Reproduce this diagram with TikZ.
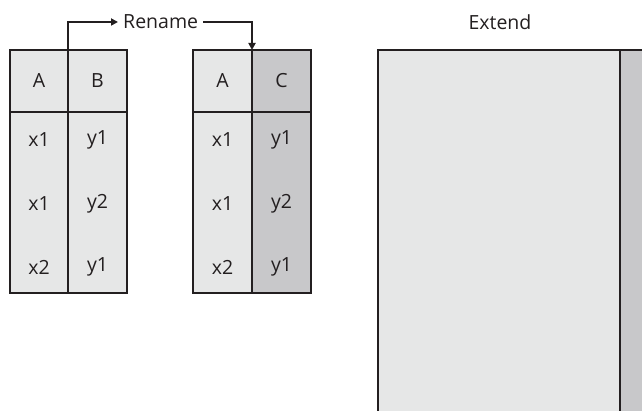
\documentclass[tikz,border=0pt]{standalone}
\usepackage{fontspec}
\setmainfont{Open Sans}
\usetikzlibrary{arrows.meta}
\definecolor{lightc}{HTML}{E6E7E7}
\definecolor{darkc}{HTML}{C8C8CA}
\definecolor{linec}{HTML}{231F20}
\definecolor{textc}{HTML}{231F20}
\begin{document}
\begin{tikzpicture}[x=1pt,y=-1pt,
  cell/.style={draw=linec,line width=2.4pt,inner sep=0pt,outer sep=0pt,anchor=north west},
  lt/.style={cell,fill=lightc},
  dk/.style={cell,fill=darkc},
  val/.style={text=textc,font=\fontsize{19.5}{23}\selectfont,inner sep=0pt},
  conn/.style={draw=linec,line width=1.8pt,-{Triangle[length=7pt,width=7pt]}}]
\useasboundingbox (0,0) rectangle (642,411);
\clip (0,0) rectangle (642,411);
% left table
\node[lt,minimum width=58pt,minimum height=62pt] (hA1) at (10,50) {};
\node[lt,minimum width=59pt,minimum height=62pt] (hB1) at (68,50) {};
\node[lt,minimum width=58pt,minimum height=181pt] (cA1) at (10,112) {};
\node[lt,minimum width=59pt,minimum height=181pt] (cB1) at (68,112) {};
% right table
\node[lt,minimum width=59pt,minimum height=62pt] (hA2) at (193,50) {};
\node[dk,minimum width=59pt,minimum height=62pt] (hC2) at (252,50) {};
\node[lt,minimum width=59pt,minimum height=181pt] (cA2) at (193,112) {};
\node[dk,minimum width=59pt,minimum height=181pt] (cC2) at (252,112) {};
% extend
\node[dk,minimum width=60pt,minimum height=400pt] (ext2) at (620,50) {};
\node[lt,minimum width=242pt,minimum height=400pt] (ext1) at (378,50) {};
% texts
\node[val] (tA1) at (39,81) {A};
\node[val] (tB1) at (97.5,81) {B};
\node[val] (tA2) at (222.5,81) {A};
\node[val] (tC2) at (281.5,81) {C};
\foreach \n/\y in {1/140,2/204,3/267}{
  \node[val] (x1\n) at (39,\y) {\ifcase\n\or x1\or x1\or x2\fi};
  \node[val] (y1\n) at (97.5,\y) {\ifcase\n\or y1\or y2\or y1\fi};
  \node[val] (x2\n) at (222.5,\y) {\ifcase\n\or x1\or x1\or x2\fi};
  \node[val] (y2\n) at (281.5,\y) {\ifcase\n\or y1\or y2\or y1\fi};
}
\node[val,anchor=west,inner xsep=5pt] (ren) at (118,22) {Rename};
\node[val] (extt) at (500,22) {Extend};
\draw[conn] (hA1.north east) |- (ren.west);
\draw[conn] (ren.east) -| (hA2.north east);
\end{tikzpicture}
\end{document}
